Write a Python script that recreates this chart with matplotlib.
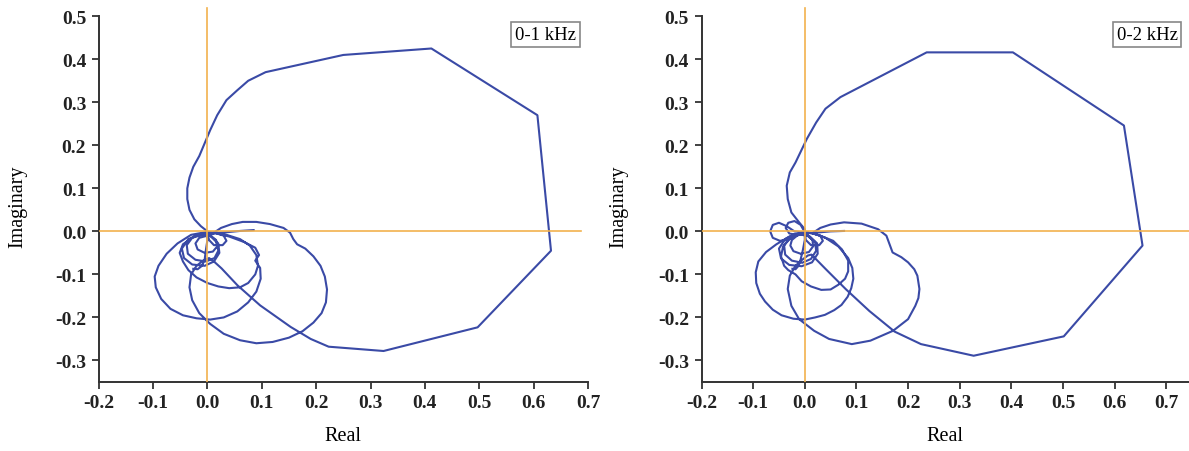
import numpy as np
import matplotlib.pyplot as plt

plt.rcParams['font.family'] = ['Liberation Serif', 'DejaVu Serif']

# ---- 0-1 kHz path (real, imaginary) ----
re_1k = [0.085, 0.06, 0.035, 0.015,
         0.0, -0.015, -0.022, -0.018, -0.005, 0.01, 0.018, 0.016, 0.005,
         -0.01, -0.028, -0.038, -0.036, -0.022, -0.003, 0.013, 0.02, 0.017, 0.005,
         -0.015, -0.035, -0.047, -0.043, -0.028, -0.005, 0.012, 0.022, 0.02, 0.008, -0.002,
         0.015, 0.03, 0.035, 0.028, 0.012, 0.003, 0.0,
         -0.025, -0.045, -0.051, -0.045, -0.035, -0.02, 0.0, 0.02, 0.04, 0.06, 0.075, 0.088,
         0.093, 0.09, 0.078, 0.06, 0.035, 0.015, 0.0,
         -0.03, -0.055, -0.075, -0.09, -0.097, -0.095, -0.085, -0.068, -0.045, -0.02, 0.005,
         0.03, 0.055, 0.075, 0.09, 0.098, 0.097, 0.088, 0.095, 0.088, 0.068, 0.04, 0.012,
         0.025, 0.045, 0.065, 0.09, 0.115, 0.14, 0.152, 0.158, 0.165, 0.18, 0.195, 0.208,
         0.216, 0.22, 0.218, 0.21, 0.195, 0.175, 0.15, 0.12, 0.09, 0.06, 0.03, 0.005,
         -0.015, -0.028, -0.033, -0.03, -0.02, -0.008, 0.003,
         0.012, 0.026, 0.055, 0.097, 0.153, 0.19, 0.223, 0.324, 0.497, 0.632, 0.607, 0.412,
         0.25, 0.107, 0.075, 0.055, 0.035, 0.018, 0.005, -0.005, -0.015, -0.026, -0.033,
         -0.037, -0.037, -0.033, -0.024, -0.012, -0.002,
         0.0, -0.003, -0.005, -0.01, -0.018, -0.026]
im_1k = [0.003, 0.001, -0.002, -0.004,
         -0.01, -0.015, -0.028, -0.042, -0.05, -0.047, -0.035, -0.02, -0.01,
         -0.008, -0.015, -0.032, -0.052, -0.066, -0.07, -0.062, -0.045, -0.025, -0.01,
         -0.008, -0.018, -0.04, -0.062, -0.077, -0.08, -0.07, -0.05, -0.028, -0.012, -0.005,
         -0.004, -0.01, -0.022, -0.032, -0.032, -0.02, -0.003,
         -0.012, -0.03, -0.05, -0.07, -0.09, -0.107, -0.12, -0.128, -0.132, -0.13, -0.12, -0.1,
         -0.08, -0.055, -0.033, -0.018, -0.008, -0.003, -0.001,
         -0.008, -0.028, -0.052, -0.08, -0.105, -0.13, -0.157, -0.18, -0.195, -0.202, -0.205,
         -0.2, -0.186, -0.165, -0.14, -0.11, -0.085, -0.068, -0.055, -0.038, -0.025, -0.012, -0.003,
         0.008, 0.017, 0.022, 0.022, 0.017, 0.008, -0.003, -0.018, -0.03, -0.04, -0.058, -0.08,
         -0.105, -0.135, -0.165, -0.19, -0.212, -0.232, -0.247, -0.257, -0.26, -0.253, -0.238, -0.215,
         -0.19, -0.16, -0.13, -0.1, -0.08, -0.068, -0.062,
         -0.07, -0.086, -0.125, -0.172, -0.222, -0.25, -0.268, -0.278, -0.223, -0.045, 0.27, 0.425,
         0.41, 0.37, 0.35, 0.328, 0.305, 0.27, 0.235, 0.205, 0.175, 0.15, 0.125,
         0.1, 0.075, 0.05, 0.028, 0.012, 0.002,
         -0.02, -0.045, -0.065, -0.08, -0.088, -0.087]

# ---- 0-2 kHz path (real, imaginary) ----
re_2k = [0.076, 0.05, 0.03, 0.012,
         0.0, -0.008, -0.02, -0.032, -0.037, -0.03, -0.015, 0.0,
         -0.02, -0.035, -0.05, -0.062, -0.067, -0.062, -0.048, -0.03, -0.012, 0.0,
         -0.015, -0.025, -0.028, -0.022, -0.008, 0.008, 0.016, 0.015, 0.005,
         -0.012, -0.03, -0.04, -0.038, -0.025, -0.005, 0.012, 0.022, 0.02, 0.005,
         -0.018, -0.038, -0.05, -0.046, -0.03, -0.006, 0.014, 0.025, 0.024, 0.01, -0.002,
         0.015, 0.03, 0.035, 0.028, 0.012, 0.002, 0.0,
         -0.025, -0.042, -0.046, -0.04, -0.032, -0.018, -0.006, 0.012, 0.032, 0.05, 0.065, 0.078,
         0.084, 0.084, 0.072, 0.055, 0.03, 0.012, 0.0,
         -0.03, -0.055, -0.075, -0.09, -0.095, -0.094, -0.087, -0.077, -0.062, -0.045, -0.022, 0.0,
         0.02, 0.039, 0.057, 0.071, 0.083, 0.09, 0.094, 0.092, 0.084, 0.065, 0.04, 0.015,
         0.03, 0.05, 0.076, 0.11, 0.142, 0.158, 0.163, 0.17, 0.187, 0.2, 0.212, 0.218,
         0.222, 0.22, 0.214, 0.2, 0.171, 0.127, 0.091, 0.047, 0.018, -0.011, -0.026,
         -0.033, -0.029, -0.018, -0.004, 0.006,
         0.013, 0.04, 0.08, 0.125, 0.174, 0.225, 0.327, 0.5015, 0.654, 0.618, 0.403, 0.236,
         0.069, 0.04, 0.022, 0.004, -0.018, -0.029, -0.035, -0.033, -0.026, -0.011, 0.0,
         0.0, -0.004, -0.008, -0.012, -0.018, -0.024]
im_2k = [0.001, 0.0, -0.002, -0.004,
         -0.002, 0.015, 0.024, 0.02, 0.008, -0.005, -0.008, -0.003,
         0.0, 0.012, 0.02, 0.015, 0.0, -0.015, -0.022, -0.018, -0.008, -0.003,
         -0.01, -0.02, -0.033, -0.046, -0.052, -0.048, -0.035, -0.02, -0.008,
         -0.007, -0.015, -0.033, -0.054, -0.068, -0.073, -0.064, -0.045, -0.025, -0.01,
         -0.006, -0.018, -0.04, -0.063, -0.078, -0.081, -0.072, -0.052, -0.028, -0.012, -0.004,
         -0.004, -0.01, -0.022, -0.032, -0.032, -0.02, -0.003,
         -0.012, -0.035, -0.058, -0.08, -0.09, -0.1, -0.116, -0.128, -0.136, -0.135, -0.124, -0.11,
         -0.093, -0.068, -0.042, -0.022, -0.01, -0.004, -0.001,
         -0.012, -0.03, -0.048, -0.07, -0.095, -0.12, -0.145, -0.163, -0.182, -0.195, -0.203, -0.205,
         -0.2, -0.194, -0.183, -0.171, -0.152, -0.132, -0.11, -0.085, -0.062, -0.035, -0.015, -0.004,
         0.008, 0.016, 0.021, 0.018, 0.005, -0.01, -0.026, -0.049, -0.06, -0.072, -0.088, -0.103,
         -0.134, -0.155, -0.173, -0.204, -0.231, -0.254, -0.262, -0.25, -0.231, -0.204, -0.173,
         -0.134, -0.103, -0.08, -0.065, -0.056,
         -0.054, -0.087, -0.135, -0.185, -0.233, -0.262, -0.289, -0.244, -0.033, 0.246, 0.416, 0.416,
         0.312, 0.285, 0.253, 0.215, 0.16, 0.137, 0.106, 0.075, 0.044, 0.021, 0.005,
         -0.02, -0.045, -0.065, -0.08, -0.088, -0.087]

ticks_x = [-0.2, -0.1, 0.0, 0.1, 0.2, 0.3, 0.4, 0.5, 0.6, 0.7]
ticks_y = [-0.3, -0.2, -0.1, 0.0, 0.1, 0.2, 0.3, 0.4, 0.5]

blue = '#3a4aa6'
orange = '#f2b24e'

fig = plt.figure(figsize=(11.89, 4.52), dpi=100)
ax1 = fig.add_axes([0.083, 0.1527, 0.4115, 0.833])
ax2 = fig.add_axes([0.590, 0.1527, 0.410, 0.833])

panels = [(ax1, re_1k, im_1k, '0-1 kHz', (-0.2, 0.7), 0.688, 0.622),
          (ax2, re_2k, im_2k, '0-2 kHz', (-0.2, 0.744), 0.744, 0.663)]

for ax, re, im, lab, xl, hend, bx in panels:
    ax.plot(re, im, color=blue, lw=1.5, zorder=2, solid_joinstyle='round')
    ax.plot([-0.2, hend], [0, 0], color=orange, lw=1.2, zorder=3)
    ax.plot([0, 0], [-0.35, 0.52], color=orange, lw=1.2, zorder=3)
    ax.set_xlim(xl)
    ax.set_ylim(-0.35, 0.525)
    ax.set_xticks(ticks_x)
    ax.set_yticks(ticks_y)
    ax.set_xticklabels(['%.1f' % t for t in ticks_x], fontweight='bold')
    ax.set_yticklabels(['%.1f' % t for t in ticks_y], fontweight='bold')
    ax.spines['top'].set_visible(False)
    ax.spines['right'].set_visible(False)
    ax.spines['left'].set_bounds(-0.35, 0.5)
    for s in ['left', 'bottom']:
        ax.spines[s].set_linewidth(1.4)
        ax.spines[s].set_color('#333333')
    ax.tick_params(direction='out', length=5, width=1.3, labelsize=14, pad=4,
                   color='#333333', labelcolor='#222222')
    ax.set_xlabel('Real', fontsize=14.5)
    ax.set_ylabel('Imaginary', fontsize=14.5)
    ax.xaxis.set_label_coords(0.5, -0.118)
    ax.text(bx, 0.457, lab, fontsize=13.5, ha='center', va='center',
            bbox=dict(boxstyle='square,pad=0.2', fc='white', ec='#888888', lw=1.2))

ax1.yaxis.set_label_coords(-0.145, 0.469)
ax2.yaxis.set_label_coords(-0.1505, 0.469)

fig.savefig('out.png', dpi=100)
